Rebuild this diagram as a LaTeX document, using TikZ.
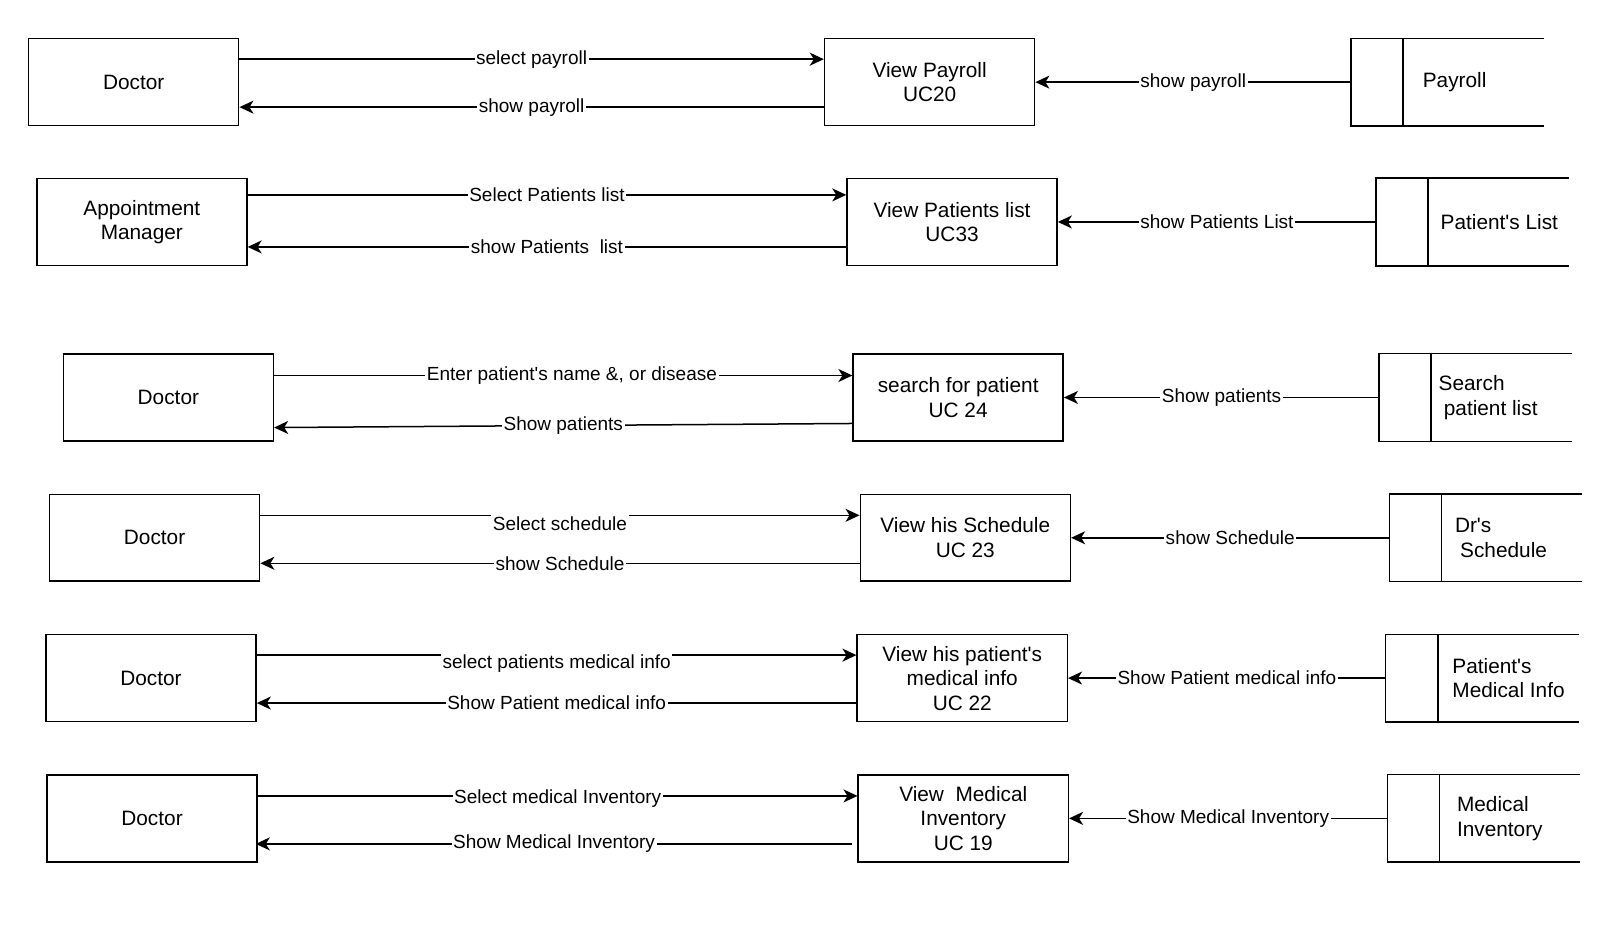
\documentclass[tikz,border=0pt]{standalone}
\usepackage{fontspec}
\setmainfont{Liberation Sans}
\usetikzlibrary{arrows.meta,calc}

\tikzset{
  box/.style={draw, line width=0.75pt, minimum width=105pt, minimum height=43.4pt, inner sep=0pt, align=center, font=\fontsize{10.4}{12.25}\selectfont},
  store/.style={minimum width=96pt, minimum height=43.4pt, inner sep=0pt},
  flow/.style={line width=0.75pt, -{Stealth[length=7pt,width=6.5pt,inset=2pt]}},
  lbl/.style={fill=white, inner sep=0.8pt, font=\fontsize{9.5}{11}\selectfont},
}
\newcommand\ap{\textquotesingle}
% data store: name, position, text offset, text
\newcommand\datastore[4]{%
  \node[store] (#1) at (#2) {};
  \draw[line width=0.75pt] (#1.north east) -- (#1.north west) -- (#1.south west) -- (#1.south east);
  \draw[line width=0.75pt] ($(#1.north west)+(51,0)$) -- ($(#1.south west)+(51,0)$);
  \node[anchor=west, align=left, inner sep=0pt, font=\fontsize{10.4}{12.25}\selectfont] at ($(#1.west)+(#3,0)$) {#4};
}

\begin{document}
\begin{tikzpicture}[x=0.51pt, y=-0.51pt]
  \useasboundingbox (0,0) rectangle (1568,916);

  %%%%% payroll %%%%%
  \node[box] (A1) at (131, 80.5) {Doctor};
  \node[box] (U1) at (911, 80.5) {View Payroll\\UC20};
  \datastore{S1}{1418.5, 80.5}{70}{Payroll}
  \draw[flow] ($(A1.east)+(0,-22.5)$) -- node[lbl] {select payroll} ($(U1.west)+(0,-22.5)$);
  \draw[flow] ($(U1.west)+(0,24.5)$) -- node[lbl] {show payroll} ($(A1.east)+(0,24.5)$);
  \draw[flow] (S1.west) -- node[lbl] {show payroll} (U1.east);

  %%%%% patients list %%%%%
  \node[box] (A2) at (139, 217.5) {Appointment\\Manager};
  \node[box] (U2) at (933, 217.5) {View Patients list\\UC33};
  \datastore{S2}{1443, 217.5}{63}{Patient\ap s List}
  \draw[flow] ($(A2.east)+(0,-26.5)$) -- node[lbl] {Select Patients list} ($(U2.west)+(0,-26.5)$);
  \draw[flow] ($(U2.west)+(0,24.5)$) -- node[lbl] {show Patients~ list} ($(A2.east)+(0,24.5)$);
  \draw[flow] (S2.west) -- node[lbl] {show Patients List} (U2.east);

  %%%%% search patient %%%%%
  \node[box] (A3) at (165, 389.5) {Doctor};
  \node[box] (U3) at (939, 389.5) {search for patient\\UC 24};
  \datastore{S3}{1446, 389.5}{58}{Search\\\hspace{0.25em}patient list}
  \draw[flow] ($(A3.east)+(0,-21.5)$) -- node[lbl, pos=0.515] {Enter patient\ap s name \&, or disease} ($(U3.west)+(0,-21.5)$);
  \draw[flow] ($(U3.west)+(0,25.5)$) -- node[lbl] {Show patients} ($(A3.east)+(0,29.5)$);
  \draw[flow] (S3.west) -- node[lbl] {Show patients} (U3.east);

  %%%%% schedule %%%%%
  \node[box] (A4) at (151.5, 527) {Doctor};
  \node[box] (U4) at (946, 527) {View his Schedule\\UC 23};
  \datastore{S4}{1456, 527}{64}{Dr\ap s\\\hspace{0.25em}Schedule}
  \draw[flow] ($(A4.east)+(0,-22)$) -- node[lbl, yshift=-4pt] {Select schedule} ($(U4.west)+(0,-22)$);
  \draw[flow] ($(U4.west)+(0,25)$) -- node[lbl] {show Schedule} ($(A4.east)+(0,25)$);
  \draw[flow] (S4.west) -- node[lbl] {show Schedule} (U4.east);

  %%%%% medical info %%%%%
  \node[box] (A5) at (148, 664.5) {Doctor};
  \node[box] (U5) at (943, 664.5) {View his patient\ap s\\medical info\\UC 22};
  \datastore{S5}{1452.5, 664.5}{65}{Patient\ap s\\Medical Info}
  \draw[flow] ($(A5.east)+(0,-22.5)$) -- node[lbl, yshift=-4pt] {select patients medical info} ($(U5.west)+(0,-22.5)$);
  \draw[flow] ($(U5.west)+(0,24.5)$) -- node[lbl] {Show Patient medical info} ($(A5.east)+(0,24.5)$);
  \draw[flow] (S5.west) -- node[lbl] {Show Patient medical info} (U5.east);

  %%%%% inventory %%%%%
  \node[box] (A6) at (149, 802) {Doctor};
  \node[box] (U6) at (944, 802) {View~ Medical\\Inventory\\UC 19};
  \datastore{S6}{1454, 802}{68}{Medical\\Inventory}
  \draw[flow] ($(A6.east)+(0,-22)$) -- node[lbl, yshift=-1.5pt] {Select medical Inventory} ($(U6.west)+(0,-22)$);
  \draw[flow] ($(U6.west)+(-5,25)$) -- node[lbl] {Show Medical Inventory} ($(A6.east)+(-2,25)$);
  \draw[flow] (S6.west) -- node[lbl] {Show Medical Inventory} (U6.east);
\end{tikzpicture}
\end{document}
